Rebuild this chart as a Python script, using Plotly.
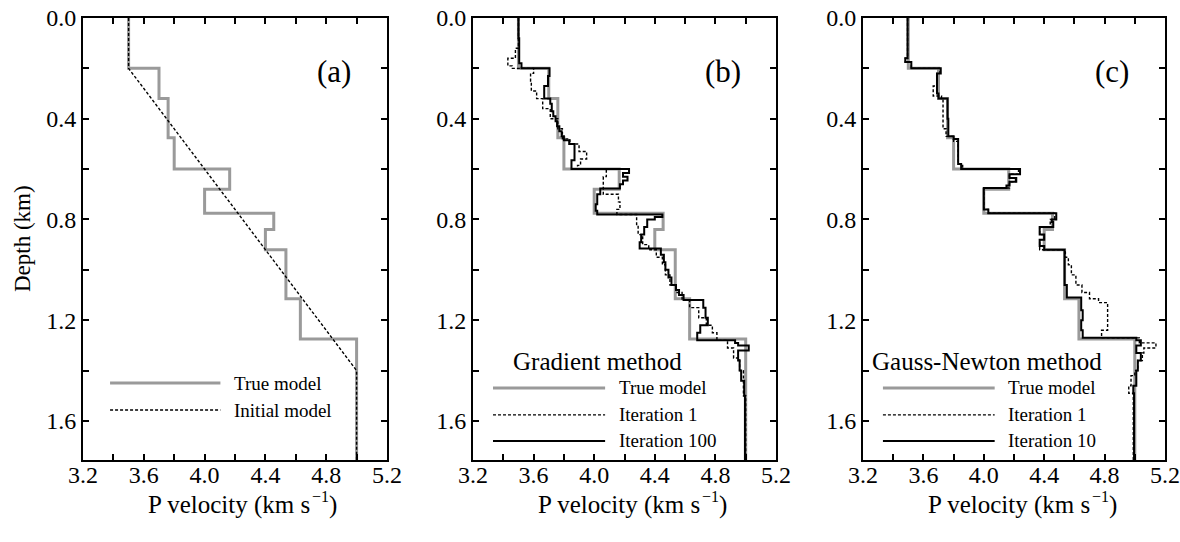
import plotly.graph_objects as go

# ---------------- data ----------------
BOTTOM = 1.76  # depth of model bottom (km)

# True model: layer tops (km) and P velocities (km/s)
true_top = [0.0, 0.2, 0.32, 0.475, 0.6, 0.68, 0.775, 0.84, 0.92, 1.115, 1.275]
true_vel = [3.5, 3.7, 3.76, 3.8, 4.165, 4.0, 4.455, 4.4, 4.535, 4.63, 5.0]

# Initial model (linear gradient)
init_depth = [0.0, 0.2, 1.4, BOTTOM]
init_vel = [3.5, 3.5, 5.0, 5.0]

# Gradient method, iteration 1
grad1_top = [0.0, 0.12, 0.16, 0.19, 0.2, 0.22, 0.25, 0.29, 0.32, 0.36, 0.40, 0.44, 0.48, 0.50,
             0.53, 0.56, 0.585, 0.6, 0.63, 0.66, 0.70, 0.73, 0.76, 0.78, 0.82, 0.86, 0.90, 0.92,
             0.95, 0.98, 1.02, 1.06, 1.09, 1.12, 1.15, 1.19, 1.22, 1.25, 1.28, 1.31, 1.35, 1.40, 1.50]
grad1_vel = [3.50, 3.48, 3.43, 3.46, 3.60, 3.58, 3.585, 3.62, 3.66, 3.71, 3.76, 3.79, 3.84, 3.90,
             3.95, 3.91, 3.89, 4.08, 4.06, 4.06, 4.16, 4.17, 4.15, 4.28, 4.29, 4.32, 4.36, 4.41,
             4.45, 4.47, 4.50, 4.54, 4.58, 4.63, 4.69, 4.74, 4.78, 4.81, 4.88, 4.92, 4.96, 4.985, 5.0]

# Gradient method, iteration 100
grad100_top = [0.0, 0.08, 0.18, 0.2, 0.23, 0.27, 0.32, 0.34, 0.37, 0.39, 0.41, 0.43, 0.45, 0.47,
               0.485, 0.50, 0.565, 0.6, 0.615, 0.63, 0.645, 0.66, 0.677, 0.70, 0.74, 0.765, 0.78,
               0.79, 0.80, 0.83, 0.86, 0.89, 0.915, 0.94, 0.97, 1.00, 1.03, 1.06, 1.08, 1.10, 1.12,
               1.15, 1.19, 1.22, 1.25, 1.28, 1.29, 1.30, 1.32, 1.36, 1.40, 1.44, 1.50]
grad100_vel = [3.50, 3.505, 3.52, 3.705, 3.695, 3.67, 3.71, 3.72, 3.73, 3.745, 3.755, 3.77, 3.785, 3.80,
               3.835, 3.87, 3.85, 4.23, 4.19, 4.22, 4.19, 4.17, 4.04, 4.02, 4.01, 4.02, 4.45,
               4.40, 4.35, 4.33, 4.31, 4.30, 4.44, 4.46, 4.47, 4.49, 4.51, 4.54, 4.56, 4.59, 4.72,
               4.735, 4.75, 4.70, 4.68, 4.93, 4.95, 5.02, 4.95, 4.96, 4.97, 4.99, 4.995]

# Gauss-Newton method, iteration 1
gn1_top = [0.0, 0.16, 0.175, 0.2, 0.22, 0.27, 0.31, 0.32, 0.44, 0.47, 0.49, 0.58, 0.6, 0.62, 0.635,
           0.65, 0.675, 0.76, 0.775, 0.80, 0.83, 0.86, 0.88, 0.92, 0.95, 0.98, 1.02, 1.06, 1.09,
           1.115, 1.13, 1.24, 1.27, 1.29, 1.31, 1.33, 1.36, 1.40, 1.42, 1.46, 1.49]
gn1_vel = [3.495, 3.48, 3.52, 3.71, 3.69, 3.665, 3.72, 3.73, 3.75, 3.80, 3.83, 3.86, 4.23, 4.17, 4.21,
           4.17, 4.0, 4.03, 4.47, 4.44, 4.37, 4.40, 4.37, 4.54, 4.56, 4.58, 4.61, 4.65, 4.70,
           4.76, 4.82, 4.78, 5.03, 5.14, 5.06, 5.05, 5.02, 5.00, 4.975, 4.96, 4.99]

# Gauss-Newton method, iteration 10
gn10_top = [0.0, 0.16, 0.175, 0.2, 0.22, 0.30, 0.32, 0.40, 0.47, 0.48, 0.58, 0.6, 0.62, 0.635, 0.65,
            0.665, 0.675, 0.76, 0.775, 0.80, 0.81, 0.83, 0.86, 0.88, 0.905, 0.92, 1.06, 1.11, 1.16,
            1.20, 1.24, 1.27, 1.28, 1.30, 1.33, 1.36, 1.40, 1.46, 1.49]
gn10_vel = [3.495, 3.48, 3.52, 3.715, 3.69, 3.70, 3.76, 3.765, 3.80, 3.83, 3.85, 4.24, 4.17, 4.215, 4.17,
            4.15, 4.0, 4.03, 4.48, 4.45, 4.46, 4.37, 4.40, 4.37, 4.40, 4.535, 4.55, 4.645, 4.655,
            4.645, 4.655, 5.01, 5.04, 5.01, 5.04, 5.02, 5.01, 4.99, 4.995]

x_ticks = [3.2, 3.4, 3.6, 3.8, 4.0, 4.2, 4.4, 4.6, 4.8, 5.0, 5.2]
x_labels = ["3.2", " ", "3.6", " ", "4.0", " ", "4.4", " ", "4.8", " ", "5.2"]
y_ticks = [0.0, 0.2, 0.4, 0.6, 0.8, 1.0, 1.2, 1.4, 1.6]
y_labels = ["0.0", " ", "0.4", " ", "0.8", " ", "1.2", " ", "1.6"]

panel_letters = ["(a)", "(b)", "(c)"]
panel_titles = [None, "Gradient method", "Gauss-Newton method"]
legend_texts = [["True model", "Initial model"],
                ["True model", "Iteration 1", "Iteration 100"],
                ["True model", "Iteration 1", "Iteration 10"]]
# x-axis title "P velocity (km s^-1)" written in three pieces (base, exponent, closing)
x_title_parts = ["P velocity (km s", "\u22121", ")"]
y_title = "Depth (km)"

# ---------------- styles ----------------
FONT = "Liberation Serif, Times New Roman, serif"
GRAY = "#9a9a9a"
W, H = 1180, 542
px_l = [83, 473, 863]
px_r = [387, 776, 1165]
px_t, px_b = 18, 460


def steps(top, vel):
    """Return (velocities, depths) for a 'vh' step line, closed at model bottom."""
    return list(vel) + [vel[-1]], list(top) + [BOTTOM]


gray_line = dict(color=GRAY, width=3)
dash_line = dict(color="black", width=1.4, dash="3px,2px")
solid_line = dict(color="black", width=2)

fig = go.Figure()

# panel a
tx, ty = steps(true_top, true_vel)
fig.add_trace(go.Scatter(x=tx, y=ty, mode="lines", line=gray_line, line_shape="vh",
                         xaxis="x", yaxis="y", showlegend=False))
fig.add_trace(go.Scatter(x=init_vel, y=init_depth, mode="lines", line=dash_line,
                         xaxis="x", yaxis="y", showlegend=False))

# panels b and c
for i, (it1, it2) in enumerate([((grad1_top, grad1_vel), (grad100_top, grad100_vel)),
                                ((gn1_top, gn1_vel), (gn10_top, gn10_vel))]):
    xa = "x%d" % (i + 2)
    ya = "y%d" % (i + 2)
    fig.add_trace(go.Scatter(x=tx, y=ty, mode="lines", line=gray_line, line_shape="vh",
                             xaxis=xa, yaxis=ya, showlegend=False))
    x1, y1 = steps(*it1)
    fig.add_trace(go.Scatter(x=x1, y=y1, mode="lines", line=dash_line, line_shape="vh",
                             xaxis=xa, yaxis=ya, showlegend=False))
    x2, y2 = steps(*it2)
    fig.add_trace(go.Scatter(x=x2, y=y2, mode="lines", line=solid_line, line_shape="vh",
                             xaxis=xa, yaxis=ya, showlegend=False))

tickfont = dict(family=FONT, size=24, color="black")
common = dict(ticks="inside", ticklen=6, tickwidth=2, tickcolor="black", showline=True,
              linewidth=2, linecolor="black", mirror="ticks", showgrid=False, zeroline=False,
              tickfont=tickfont, automargin=False)

layout = dict(template="none", width=W, height=H, margin=dict(l=0, r=0, t=0, b=0, pad=0),
              plot_bgcolor="white", paper_bgcolor="white", showlegend=False,
              font=dict(family=FONT, color="black"))
ydom = [1 - px_b / H, 1 - px_t / H]
for i in range(3):
    sfx = "" if i == 0 else str(i + 1)
    layout["xaxis" + sfx] = dict(domain=[px_l[i] / W, px_r[i] / W], range=[3.2, 5.2],
                                 tickvals=x_ticks, ticktext=x_labels, ticklabelstandoff=-8,
                                 anchor="y" + sfx, **common)
    layout["yaxis" + sfx] = dict(domain=ydom, range=[BOTTOM - 0.005, 0], tickvals=y_ticks,
                                 ticktext=y_labels, anchor="x" + sfx, **common)
fig.update_layout(**layout)

annotations = []
shapes = []
for i in range(3):
    sfx = "" if i == 0 else str(i + 1)
    xd, yd = "x%s domain" % sfx, "y%s domain" % sfx
    # panel letter
    annotations.append(dict(text=panel_letters[i], xref=xd, yref=yd, x=0.825, y=0.878,
                            xanchor="center", yanchor="middle", showarrow=False,
                            font=dict(family=FONT, size=31, color="black")))
    # x title (three pieces)
    base = px_l[i]
    annotations.append(dict(text=x_title_parts[0], xref="paper", yref="paper",
                            x=(base + 229) / W, y=1 - 505 / H, xanchor="right", yanchor="middle",
                            showarrow=False, font=dict(family=FONT, size=25, color="black")))
    annotations.append(dict(text=x_title_parts[1], xref="paper", yref="paper",
                            x=(base + 227) / W, y=1 - 496 / H, xanchor="left", yanchor="middle",
                            showarrow=False, font=dict(family=FONT, size=16, color="black")))
    annotations.append(dict(text=x_title_parts[2], xref="paper", yref="paper",
                            x=(base + 244) / W, y=1 - 505 / H, xanchor="left", yanchor="middle",
                            showarrow=False, font=dict(family=FONT, size=25, color="black")))
    # legends
    if i == 0:
        ys = [0.174, 0.113]
        x0, x1, xt = 0.089, 0.452, 0.49
        styles = [gray_line, dash_line]
    else:
        ys = [0.163, 0.102, 0.043]
        x0, x1, xt = 0.066, 0.436, 0.474
        styles = [gray_line, dash_line, solid_line]
        annotations.append(dict(text=panel_titles[i], xref=xd, yref=yd, x=0.41, y=0.222,
                                xanchor="center", yanchor="middle", showarrow=False,
                                font=dict(family=FONT, size=25, color="black")))
    for yy, st, txt in zip(ys, styles, legend_texts[i]):
        shapes.append(dict(type="line", xref=xd, yref=yd, x0=x0, x1=x1, y0=yy, y1=yy, line=st))
        annotations.append(dict(text=txt, xref=xd, yref=yd, x=xt, y=yy, xanchor="left",
                                yanchor="middle", showarrow=False,
                                font=dict(family=FONT, size=19, color="black")))

annotations.append(dict(text=y_title, xref="paper", yref="paper", x=22 / W,
                        y=1 - ((px_t + px_b) / 2) / H, textangle=-90, xanchor="center",
                        yanchor="middle", showarrow=False,
                        font=dict(family=FONT, size=23, color="black")))

fig.update_layout(annotations=annotations, shapes=shapes)
fig.write_html("out.html", config={"displayModeBar": False},
               post_script="document.body.style.margin='0';document.body.style.padding='0';")
